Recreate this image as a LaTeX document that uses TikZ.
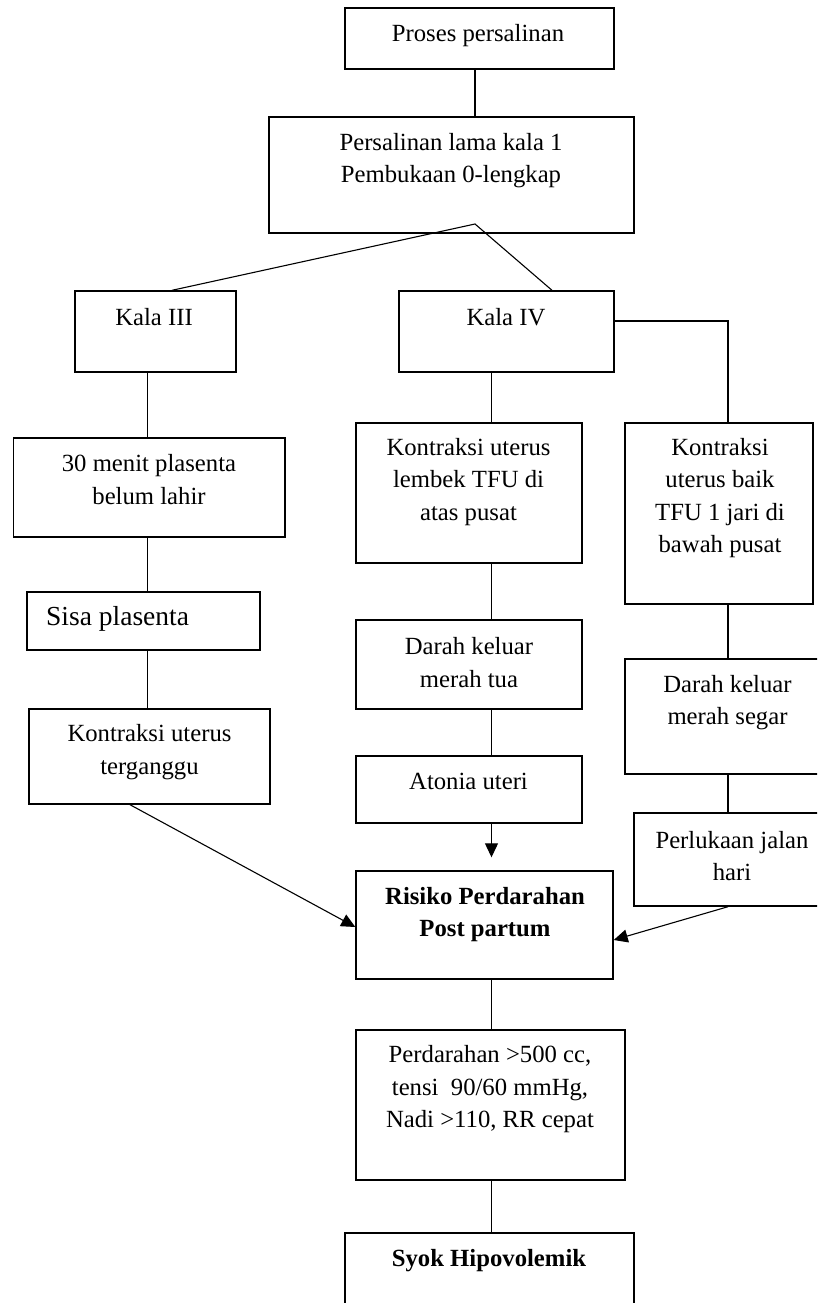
\documentclass[tikz,border=0pt]{standalone}
\usepackage{fontspec}
\setmainfont{Liberation Serif}
\usetikzlibrary{arrows.meta}
\tikzset{
  box/.style={draw, line width=1.4pt, inner sep=0pt, rectangle},
  txt/.style={inner sep=0pt, align=center, font=\fontsize{24.7pt}{32.5pt}\selectfont},
  conn/.style={line width=1.1pt},
  arr/.style={line width=1.1pt, -{Triangle[length=14pt,width=13pt]}}
}
\begin{document}
\begin{tikzpicture}[x=1pt,y=-1pt]
\useasboundingbox (0,0) rectangle (817,1303);
\clip (0,0) rectangle (817,1303);
% boxes
\node[box, minimum width=269pt, minimum height=61pt] (proses) at (479.5,38.5) {};
\node[box, minimum width=365pt, minimum height=116pt] (lama) at (451.5,175) {};
\node[box, minimum width=161pt, minimum height=81pt] (kala3) at (155.5,331.5) {};
\node[box, minimum width=215pt, minimum height=81pt] (kala4) at (506.5,331.5) {};
\node[box, minimum width=271.5pt, minimum height=99pt] (menit) at (149.25,487.5) {};
\node[box, minimum width=233pt, minimum height=58pt] (sisa) at (143.5,621) {};
\node[box, minimum width=241pt, minimum height=95pt] (ganggu) at (149.5,756.5) {};
\node[box, minimum width=226pt, minimum height=140pt] (lembek) at (469,493) {};
\node[box, minimum width=226pt, minimum height=89pt] (tua) at (469,664.5) {};
\node[box, minimum width=226pt, minimum height=67pt] (atonia) at (469,789.5) {};
\node[box, minimum width=188pt, minimum height=181pt] (baik) at (719,513.5) {};
\node[box, minimum width=205pt, minimum height=115pt] (segar) at (727.5,716.5) {};
\node[box, minimum width=196pt, minimum height=93pt] (luka) at (732,859.5) {};
\node[box, minimum width=257pt, minimum height=108pt] (risiko) at (484.5,925) {};
\node[box, minimum width=269pt, minimum height=150pt] (darah) at (490.5,1105) {};
\node[box, minimum width=289pt, minimum height=87pt] (syok) at (489.5,1276.5) {};
% texts
\node[txt] (t1) at (478,36) {Proses persalinan};
\node[txt] (t2) at (451,160.5) {Persalinan lama kala 1\\Pembukaan 0-lengkap};
\node[txt] (t3) at (154,317) {Kala III};
\node[txt] (t4) at (506,317) {Kala IV};
\node[txt] (t5) at (149,479.5) {30 menit plasenta\\belum lahir};
\node[txt, anchor=west, font=\fontsize{27.5pt}{33pt}\selectfont] (t6) at (46,619) {Sisa plasenta};
\node[txt] (t7) at (149.5,752) {Kontraksi uterus\\terganggu};
\node[txt] (t8) at (468.5,482) {Kontraksi uterus\\lembek TFU di\\atas pusat};
\node[txt] (t9) at (469,662.5) {Darah keluar\\merah tua};
\node[txt] (t10) at (468.5,781) {Atonia uteri};
\node[txt] (t11) at (720,498) {Kontraksi\\uterus baik\\TFU 1 jari di\\bawah pusat};
\node[txt] (t12) at (727.5,702.5) {Darah keluar\\merah segar};
\node[txt] (t13) at (732,856) {Perlukaan jalan\\hari};
\node[txt, font=\fontsize{24.7pt}{32.5pt}\selectfont\bfseries] (t14) at (485,914.5) {Risiko Perdarahan\\Post partum};
\node[txt] (t15) at (490,1089.5) {Perdarahan >500 cc,\\tensi\ \ 90/60 mmHg,\\Nadi >110, RR cepat};
\node[txt, font=\fontsize{24.7pt}{32.5pt}\selectfont\bfseries] (t16) at (489,1260.5) {Syok Hipovolemik};
% connectors
\coordinate (split) at (475,224);
\coordinate (cL) at (147.5,0);
\coordinate (cM) at (491.5,0);
\coordinate (cR) at (728,0);
\draw[conn] (split |- proses.south) -- (split |- lama.north);
\draw[conn] ([xshift=16.5pt]kala3.north) -- (split) -- ([xshift=45.5pt]kala4.north);
\draw[conn] ([yshift=10.5pt]kala4.east) -| (cR |- baik.north);
\draw[conn] (cL |- kala3.south) -- (cL |- menit.north);
\draw[conn] (cL |- menit.south) -- (cL |- sisa.north);
\draw[conn] (cL |- sisa.south) -- (cL |- ganggu.north);
\draw[conn] (cM |- kala4.south) -- (cM |- lembek.north);
\draw[conn] (cM |- lembek.south) -- (cM |- tua.north);
\draw[conn] (cM |- tua.south) -- (cM |- atonia.north);
\draw[arr, shorten >=13pt] (cM |- atonia.south) -- (cM |- risiko.north);
\draw[conn] (cR |- baik.south) -- (cR |- segar.north);
\draw[conn] (cR |- segar.south) -- (cR |- luka.north);
\draw[arr] ([xshift=-19.5pt]ganggu.south) -- ([yshift=-2pt]risiko.west);
\draw[arr] (cR |- luka.south) -- ([yshift=-15pt]risiko.east);
\draw[conn] (cM |- risiko.south) -- (cM |- darah.north);
\draw[conn] (cM |- darah.south) -- (cM |- syok.north);
\end{tikzpicture}
\end{document}
